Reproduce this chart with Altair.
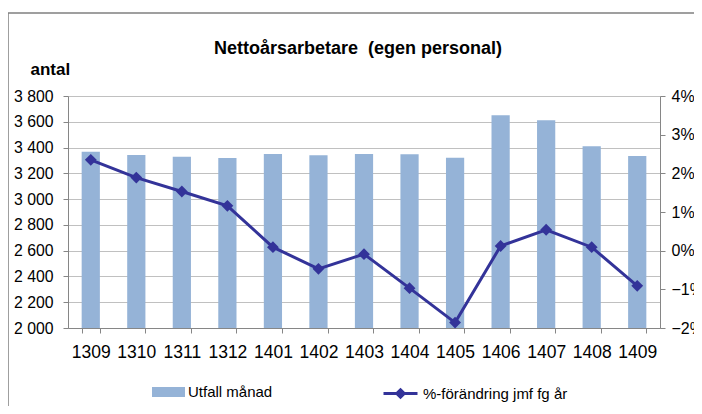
import altair as alt
import pandas as pd

months = ["1309", "1310", "1311", "1312", "1401", "1402", "1403",
          "1404", "1405", "1406", "1407", "1408", "1409"]
antal = [3368, 3342, 3329, 3319, 3350, 3340, 3350, 3348, 3321, 3650, 3611, 3410, 3335]
pct = [2.35, 1.89, 1.53, 1.16, 0.09, -0.47, -0.09, -0.97, -1.86, 0.12, 0.54, 0.09, -0.91]

left_ticks = [2000, 2200, 2400, 2600, 2800, 3000, 3200, 3400, 3600, 3800]
right_ticks = [-0.02, -0.01, 0.0, 0.01, 0.02, 0.03, 0.04]

df = pd.DataFrame({"month": months, "antal": antal, "pct": [p / 100 for p in pct]})

FONT = "Liberation Sans"
BAR = "#95B3D7"
LINE = "#333399"

x = alt.X("month:N", sort=months, title=None,
          scale=alt.Scale(paddingInner=0.6, paddingOuter=0.3),
          axis=alt.Axis(labelAngle=0, tickBand="extent", tickSize=5, tickColor="#868686",
                        domainColor="#868686", labelPadding=10, labelFontSize=17.5,
                        labelFont=FONT, labelColor="#000000", grid=False))

bars = alt.Chart(df).mark_bar(color=BAR).encode(
    x=x,
    y=alt.Y("antal:Q",
            scale=alt.Scale(domain=[2000, 3800], zero=False, nice=False),
            axis=alt.Axis(values=left_ticks, title="antal", titleAngle=0, titleAlign="left",
                          titleBaseline="middle", titleX=-38, titleY=-27, titleFont=FONT,
                          titleFontSize=17, titleFontWeight="bold", titleColor="#000000",
                          labelExpr="replace(format(datum.value, ','), ',', ' ')",
                          labelFont=FONT, labelFontSize=15.8, labelColor="#000000",
                          labelPadding=10, tickSize=5, tickColor="#868686",
                          domainColor="#868686", grid=True, gridColor="#C0C0C0")),
    y2=alt.datum(2000),
    color=alt.Color("s:N", scale=alt.Scale(domain=["Utfall månad"], range=[BAR]),
                    legend=alt.Legend(orient="none", legendX=84, legendY=279.5, title=None,
                                      symbolType="M-1,-0.3H1V0.3H-1Z", symbolSize=1089,
                                      symbolStrokeWidth=0, labelFont=FONT, labelFontSize=15,
                                      labelColor="#000000", labelOffset=3, padding=0)),
).transform_calculate(s="'Utfall månad'")

right_axis = alt.Axis(orient="right", values=right_ticks, format=".0%", title=None,
                      labelFont=FONT, labelFontSize=16, labelColor="#000000",
                      labelPadding=6, tickSize=5, tickColor="#868686",
                      domainColor="#868686", grid=False)
yscale = alt.Scale(domain=[-0.02, 0.04], nice=False, zero=False)
yr = alt.Y("pct:Q", scale=yscale, axis=right_axis)

line = alt.Chart(df).mark_line(strokeWidth=3).encode(
    x=x, y=yr,
    stroke=alt.Stroke("s:N", scale=alt.Scale(domain=["%-förändring jmf fg år"], range=[LINE]),
                      legend=alt.Legend(orient="none", legendX=314, legendY=279, title=None,
                                        symbolType="M-1,0H1M0,-0.22L0.22,0L0,0.22L-0.22,0Z",
                                        symbolSize=1156, symbolStrokeWidth=3,
                                        symbolFillColor=LINE, labelFont=FONT,
                                        labelFontSize=15, labelColor="#000000",
                                        labelOffset=4, padding=0)),
).transform_calculate(s="'%-förändring jmf fg år'")

points = alt.Chart(df).mark_point(shape="diamond", filled=True, size=140, color=LINE,
                                  opacity=1).encode(x=x, y=yr)

right = alt.layer(line, points)

frame_df = pd.DataFrame({"k": [0]})
frame_left = alt.Chart(frame_df).mark_rule(color="#7F7F7F", strokeWidth=1.5).encode(
    x=alt.value(-60), y=alt.value(-83), y2=alt.value(330))
frame_top = alt.Chart(frame_df).mark_rule(color="#7F7F7F", strokeWidth=1.5).encode(
    x=alt.value(-60), x2=alt.value(660), y=alt.value(-83))

chart = alt.layer(bars, right, frame_left, frame_top).resolve_scale(
    y="independent"
).properties(
    width=592, height=232,
    padding={"left": 60, "top": 88, "right": 34, "bottom": 78},
    autosize=alt.AutoSizeParams(type="none"),
    title=alt.TitleParams("Nettoårsarbetare\u00a0 (egen personal)", font=FONT, fontSize=18,
                          fontWeight="bold", color="#000000", frame="group", anchor="middle",
                          offset=-46, dx=-6),
).configure_view(stroke=None).configure(background="#FFFFFF")

chart.save("out.html", embed_options={"renderer": "svg", "actions": False})
